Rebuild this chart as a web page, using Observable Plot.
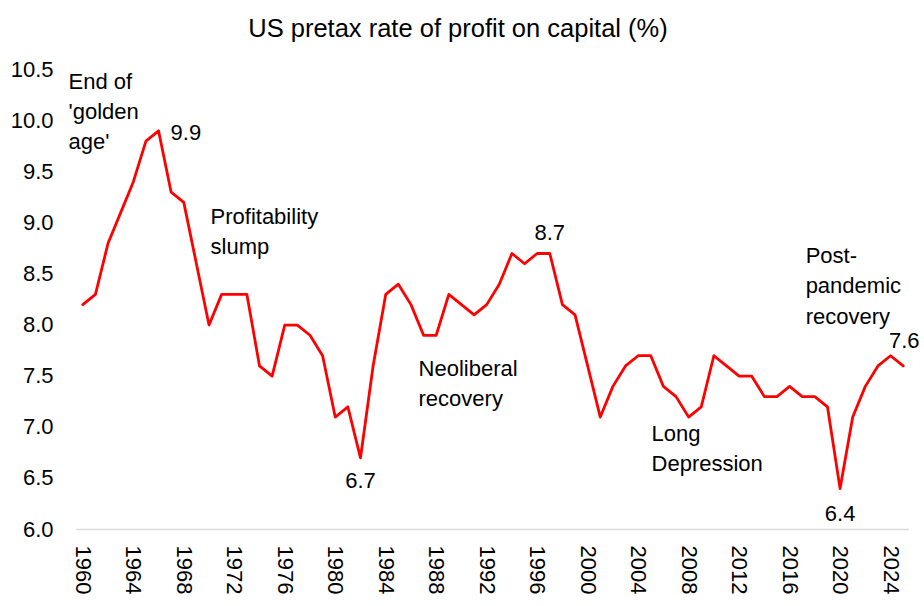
<!DOCTYPE html>
<html>
<head>
<meta charset="utf-8">
<script src="https://cdn.jsdelivr.net/npm/d3@7"></script>
<script src="https://cdn.jsdelivr.net/npm/@observablehq/plot@0.6"></script>
<style>
  body { margin: 0; background: #fff; font-family: "Liberation Sans", Arial, sans-serif; }
  #title { width: 924px; height: 50px; box-sizing: border-box; padding-top: 13px; padding-right: 8px;
           line-height: 30px; font-size: 25.5px; text-align: center; color: #000; }
  #chart svg { display: block; }
</style>
</head>
<body>
<div id="title">US pretax rate of profit on capital (%)</div>
<div id="chart"></div>
<script>
// ---- data ----
const startYear = 1960;
const profitRate = [
  8.2, 8.3, 8.8, 9.1, 9.4, 9.8, 9.9, 9.3, 9.2, 8.6,   // 1960s
  8.0, 8.3, 8.3, 8.3, 7.6, 7.5, 8.0, 8.0, 7.9, 7.7,   // 1970s
  7.1, 7.2, 6.7, 7.6, 8.3, 8.4, 8.2, 7.9, 7.9, 8.3,   // 1980s
  8.2, 8.1, 8.2, 8.4, 8.7, 8.6, 8.7, 8.7, 8.2, 8.1,   // 1990s
  7.6, 7.1, 7.4, 7.6, 7.7, 7.7, 7.4, 7.3, 7.1, 7.2,   // 2000s
  7.7, 7.6, 7.5, 7.5, 7.3, 7.3, 7.4, 7.3, 7.3, 7.2,   // 2010s
  6.4, 7.1, 7.4, 7.6, 7.7, 7.6                        // 2020-2025
];
const xTickYears = [1960, 1964, 1968, 1972, 1976, 1980, 1984, 1988, 1992, 1996, 2000, 2004, 2008, 2012, 2016, 2020, 2024];
const yTickValues = [6.0, 6.5, 7.0, 7.5, 8.0, 8.5, 9.0, 9.5, 10.0, 10.5];

// labelled points
const peakLabelYear = [1966];
const aboveLabelYears = [1997];
const endLabelYear = [2025];

// narrative annotations (anchored in data space: year, rate)
const noteTexts = ["End of\n'golden\nage'", "Profitability\nslump", "Neoliberal\nrecovery", "Long\nDepression", "Post-\npandemic\nrecovery"];
const noteYears = [1958.87, 1970.12, 1986.6, 2005.06, 2017.27];
const noteRates = [10.465, 9.143, 7.654, 7.017, 8.76];

// ---- build tables ----
const series = profitRate.map((v, i) => ({year: startYear + i, rate: v}));
const pick = (yrs) => series.filter(d => yrs.includes(d.year));
const notes = noteTexts.map((t, i) => ({text: t, year: noteYears[i], rate: noteRates[i]}));
const fmt = d => d.rate.toFixed(1);

const chart = Plot.plot({
  width: 924,
  height: 556,
  marginTop: 19,
  marginBottom: 77,
  marginLeft: 76,
  marginRight: 15,
  style: {fontFamily: "'Liberation Sans', Arial, sans-serif", fontSize: "22px", color: "#000", background: "#fff", overflow: "visible"},
  x: {domain: [1959.5, 2025.5]},
  y: {domain: [6, 10.5]},
  marks: [
    Plot.ruleY([6], {stroke: "#d9d9d9", strokeWidth: 1.3}),
    Plot.axisY(yTickValues, {tickSize: 0, tickPadding: 23, tickFormat: d => d.toFixed(1), label: null, fontSize: 22}),
    Plot.axisX(xTickYears, {tickSize: 0, tickPadding: 16, tickRotate: 90, tickFormat: d => String(d), label: null, fontSize: 22}),
    Plot.line(series, {x: "year", y: "rate", stroke: "#ff0000", strokeWidth: 2.8, strokeLinejoin: "round"}),
    Plot.text(pick(peakLabelYear), {x: "year", y: "rate", text: fmt, textAnchor: "start", lineAnchor: "middle", dx: 12, dy: 2, fill: "#000"}),
    Plot.text(pick([1982]), {x: "year", y: "rate", text: fmt, lineAnchor: "middle", dy: 23.5, fill: "#000"}),
    Plot.text(pick([2020]), {x: "year", y: "rate", text: fmt, lineAnchor: "middle", dy: 25.5, fill: "#000"}),
    Plot.text(pick(aboveLabelYears), {x: "year", y: "rate", text: fmt, lineAnchor: "middle", dy: -21, fill: "#000"}),
    Plot.text(pick(endLabelYear), {x: "year", y: "rate", text: fmt, lineAnchor: "middle", dy: -25, dx: 1, fill: "#000"}),
    Plot.text(notes, {x: "year", y: "rate", text: "text", textAnchor: "start", lineAnchor: "top", lineHeight: 1.38, dy: -6, fill: "#000"})
  ]
});
document.getElementById("chart").appendChild(chart);
</script>
</body>
</html>
